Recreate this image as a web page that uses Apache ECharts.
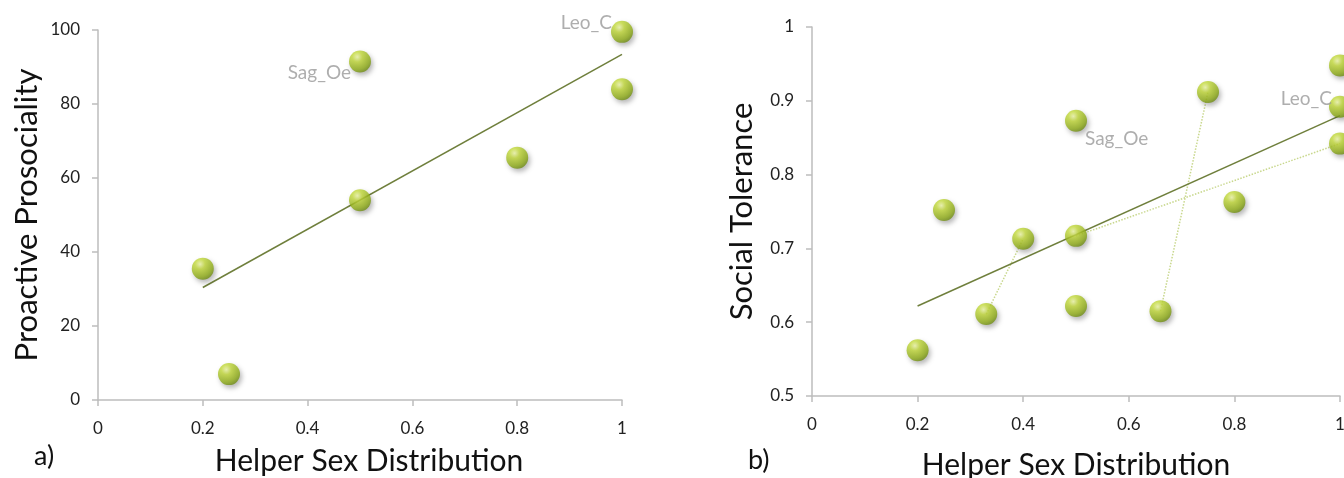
<!DOCTYPE html>
<html><head><meta charset="utf-8">
<script src="https://cdn.jsdelivr.net/npm/echarts@6/dist/echarts.min.js"></script>
<style>html,body{margin:0;padding:0;background:#fff}#c{width:1344px;height:478px}</style>
</head><body><div id="c"></div>
<script>
// Panel a) Proactive Prosociality
const aX = [0.2, 0.25, 0.5, 0.5, 0.8, 1, 1];
const aY = [35.5, 7, 91.5, 54, 65.5, 99.5, 84];
const aLabels = ['', '', 'Sag_Oe', '', '', 'Leo_C', ''];
const aTrend = [[0.2, 30.4], [1, 93.4]];
// Panel b) Social Tolerance
const bX = [0.2, 0.25, 0.33, 0.4, 0.5, 0.5, 0.5, 0.66, 0.75, 0.8, 1, 1, 1];
const bY = [0.562, 0.752, 0.611, 0.713, 0.873, 0.717, 0.622, 0.615, 0.912, 0.763, 0.948, 0.892, 0.842];
const bLabels = ['', '', '', '', 'Sag_Oe', '', '', '', '', '', '', 'Leo_C', ''];
const bTrend = [[0.2, 0.622], [1, 0.880]];
const bLinks = [[2, 3], [7, 8], [5, 12]]; // dotted connectors between point indices
const xTicks = ['0', '0.2', '0.4', '0.6', '0.8', '1'];
const aTitleY = 'Proactive Prosociality';
const bTitleY = 'Social Tolerance';
const titleX = 'Helper Sex Distribution';

const FONT = 'Lato';
const chart = echarts.init(document.getElementById('c'));
const ball = {
  color: new echarts.graphic.RadialGradient(0.38, 0.3, 0.75, [
    {offset: 0, color: '#eef7a8'},
    {offset: 0.3, color: '#c3da3a'},
    {offset: 0.75, color: '#93b01a'},
    {offset: 1, color: '#6a8712'}
  ]),
  shadowBlur: 5, shadowColor: 'rgba(0,0,0,0.35)', shadowOffsetX: 2, shadowOffsetY: 3
};
const labelPos = {
  'a-Sag_Oe': {position: 'left', offset: [7, 11]},
  'a-Leo_C': {position: 'left', offset: [6, -9]},
  'b-Sag_Oe': {position: 'right', offset: [-7, 18]},
  'b-Leo_C': {position: 'left', offset: [8, -8]}
};
function pts(p, xs, ys, labs) {
  return xs.map((x, i) => {
    const it = {value: [x, ys[i]]};
    if (labs[i]) {
      const lp = labelPos[p + '-' + labs[i]];
      it.label = {show: true, formatter: labs[i], position: lp.position, offset: lp.offset,
        color: '#9a9a9a', fontSize: 19, fontFamily: FONT};
    }
    return it;
  });
}
function xAxis(gi, gap, pad) {
  return {gridIndex: gi, type: 'value', min: 0, max: 1, interval: 0.2,
    name: titleX, nameLocation: 'middle', nameGap: gap,
    nameTextStyle: {fontSize: 30, color: '#111', fontFamily: FONT, padding: pad},
    axisLine: {lineStyle: {color: '#bdbdbd', width: 1.5}},
    axisTick: {show: true, length: 6, lineStyle: {color: '#bdbdbd', width: 1.5}},
    axisLabel: {fontSize: 17, color: '#222', fontFamily: FONT, margin: 20,
      formatter: v => xTicks[Math.round(v * 5)]},
    splitLine: {show: false}};
}
function yAxis(gi, min, max, iv, name, gap, fmt) {
  return {gridIndex: gi, type: 'value', min: min, max: max, interval: iv,
    name: name, nameLocation: 'middle', nameGap: gap,
    nameTextStyle: {fontSize: 31, color: '#111', fontFamily: FONT},
    axisLine: {show: true, lineStyle: {color: '#bdbdbd', width: 1.5}},
    axisTick: {show: true, length: 6, lineStyle: {color: '#bdbdbd', width: 1.5}},
    axisLabel: {fontSize: 17, color: '#222', fontFamily: FONT, margin: 18, formatter: fmt},
    splitLine: {show: false}};
}
const series = [
  {type: 'line', xAxisIndex: 0, yAxisIndex: 0, data: aTrend, symbol: 'none', z: 2,
    lineStyle: {color: '#6f7f3c', width: 1.5}, silent: true},
  {type: 'scatter', xAxisIndex: 0, yAxisIndex: 0, data: pts('a', aX, aY, aLabels),
    symbolSize: 22, itemStyle: ball, z: 5},
  {type: 'line', xAxisIndex: 1, yAxisIndex: 1, data: bTrend, symbol: 'none', z: 2,
    lineStyle: {color: '#6f7f3c', width: 1.5}, silent: true}
];
bLinks.forEach(([i, j]) => series.push({type: 'line', xAxisIndex: 1, yAxisIndex: 1,
  data: [[bX[i], bY[i]], [bX[j], bY[j]]], symbol: 'none', z: 1, silent: true,
  lineStyle: {color: '#c9d88e', width: 1.5, type: 'dotted'}}));
series.push({type: 'scatter', xAxisIndex: 1, yAxisIndex: 1, data: pts('b', bX, bY, bLabels),
  symbolSize: 22, itemStyle: ball, z: 5});

chart.setOption({
  animation: false,
  backgroundColor: '#fff',
  textStyle: {fontFamily: FONT},
  grid: [
    {left: 98, top: 30, width: 524, height: 370, containLabel: false, outerBoundsMode: 'none'},
    {left: 812, top: 27, width: 528, height: 369, containLabel: false, outerBoundsMode: 'none'}
  ],
  xAxis: [xAxis(0, 46, [0, 0, 0, 18]), xAxis(1, 54, 0)],
  yAxis: [
    yAxis(0, 0, 100, 20, aTitleY, 56, v => String(v)),
    yAxis(1, 0.5, 1, 0.1, bTitleY, 55, v => (Math.abs(v - 1) < 1e-9 ? '1' : v.toFixed(1)))
  ],
  graphic: [
    {type: 'text', left: 34, top: 443, style: {text: 'a)', fontSize: 27, fill: '#111', fontFamily: FONT}},
    {type: 'text', left: 748, top: 447, style: {text: 'b)', fontSize: 27, fill: '#111', fontFamily: FONT}}
  ],
  series: series
});
</script></body></html>
